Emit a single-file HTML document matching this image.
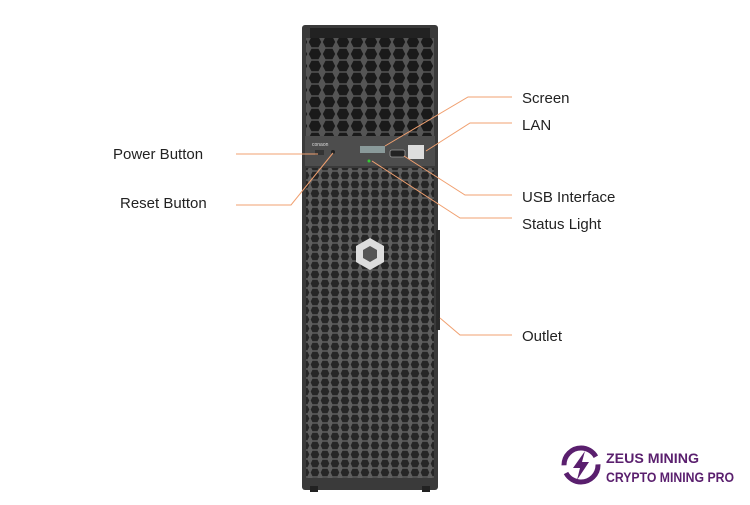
<!DOCTYPE html>
<html><head><style>
body{margin:0;width:750px;height:500px;background:#fff;overflow:hidden;font-family:"Liberation Sans",sans-serif;}
</style></head><body>
<svg width="750" height="500" viewBox="0 0 750 500" xmlns="http://www.w3.org/2000/svg">
<defs>
<pattern id="hx" width="14" height="12" patternUnits="userSpaceOnUse">
<rect width="14" height="12" fill="#555"/>
<polygon points="3.5,0.8 10.5,0.8 13.2,6 10.5,11.2 3.5,11.2 0.8,6" fill="#1a1a1a"/>
</pattern>
<pattern id="hx2" width="10" height="9" patternUnits="userSpaceOnUse">
<rect width="10" height="9" fill="#5e5e5e"/>
<polygon points="2.5,0.8 7.5,0.8 9.3,4.5 7.5,8.2 2.5,8.2 0.7,4.5" fill="#262626"/>
</pattern>
</defs>
<rect x="302" y="25" width="136" height="465" rx="3" fill="#3a3a3a"/>
<rect x="306" y="38" width="128" height="98" fill="url(#hx)"/>
<rect x="306" y="168" width="128" height="310" fill="url(#hx2)"/>
<rect x="310" y="28" width="120" height="10" fill="#222"/>
<rect x="305" y="136" width="130" height="30" fill="#4d4d4d"/>
<text x="312" y="146" font-size="5" fill="#ddd">conaon</text>
<rect x="315" y="150" width="9" height="5" fill="#333"/>
<circle cx="333" cy="152" r="2" fill="#222"/>
<rect x="360" y="146" width="25" height="7" fill="#8a9a9a"/>
<rect x="390" y="150" width="15" height="7" rx="2" fill="#222" stroke="#999" stroke-width="0.8"/>
<rect x="408" y="145" width="16" height="14" fill="#ddd"/>
<circle cx="369" cy="161" r="1.5" fill="#3c3"/>
<polygon points="370,238 384,246 384,262 370,270 356,262 356,246" fill="#ddd"/>
<polygon points="370,246 377,250 377,258 370,262 363,258 363,250" fill="#555"/>
<rect x="436" y="230" width="4" height="100" fill="#2a2a2a"/>
<rect x="310" y="486" width="8" height="6" fill="#222"/><rect x="422" y="486" width="8" height="6" fill="#222"/>
<g stroke="#f0a070" stroke-width="1" fill="none">
<polyline points="236,154 318,154"/>
<polyline points="236,205 291,205 333,153"/>
<polyline points="512,97 468,97 385,146"/>
<polyline points="512,123 470,123 426,151"/>
<polyline points="512,195 465,195 404,156"/>
<polyline points="512,218 460,218 372,161"/>
<polyline points="512,335 460,335 440,318"/>
</g>
<g font-size="15" fill="#222">
<text x="113" y="159">Power Button</text>
<text x="120" y="208">Reset Button</text>
<text x="522" y="103">Screen</text>
<text x="522" y="130">LAN</text>
<text x="522" y="202">USB Interface</text>
<text x="522" y="229">Status Light</text>
<text x="522" y="341">Outlet</text>
</g>
<circle cx="581" cy="465" r="17" fill="none" stroke="#5a1f6e" stroke-width="5" stroke-dasharray="45 8"/>
<polygon points="585,451 573,468 580,468 577,480 589,462 582,462" fill="#5a1f6e"/>
<g font-size="14" font-weight="bold" fill="#5a1f6e">
<text x="606" y="463" textLength="93" lengthAdjust="spacingAndGlyphs">ZEUS MINING</text>
<text x="606" y="482" textLength="128" lengthAdjust="spacingAndGlyphs">CRYPTO MINING PRO</text>
</g>
</svg>
</body></html>
